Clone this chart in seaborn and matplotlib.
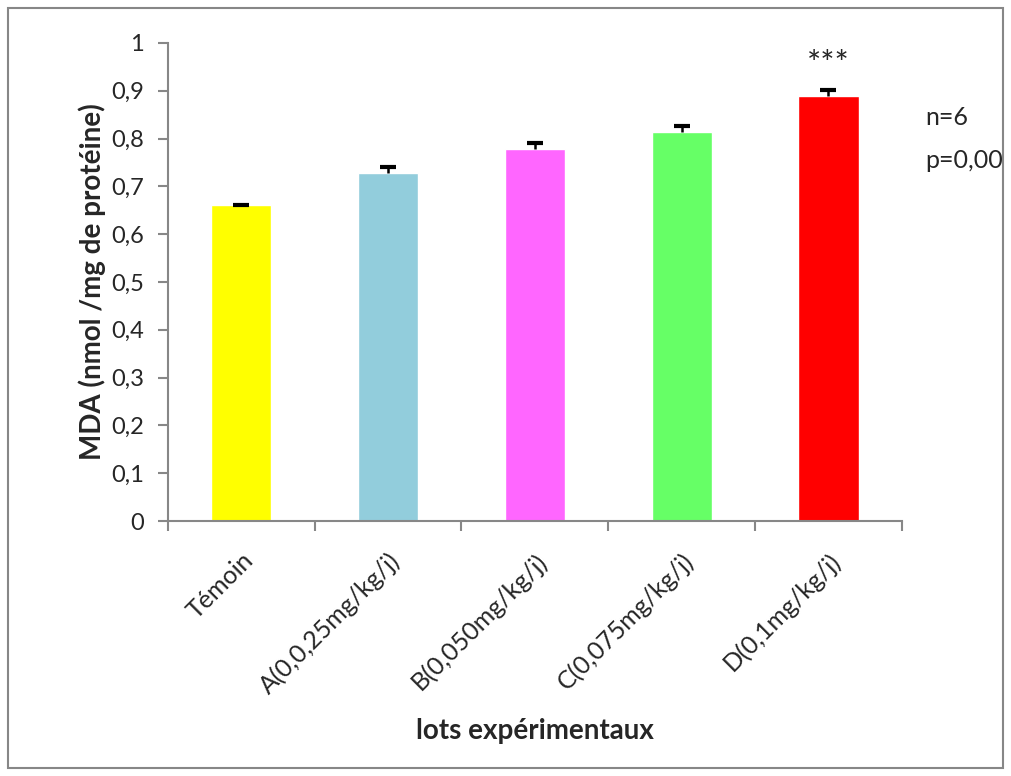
import matplotlib
matplotlib.use("Agg")
import matplotlib.pyplot as plt
import seaborn as sns
import pandas as pd
import numpy as np
from matplotlib.patches import Rectangle
from matplotlib.ticker import FixedLocator, FuncFormatter

categories = ["Témoin", "A(0,0,25mg/kg/j)", "B(0,050mg/kg/j)", "C(0,075mg/kg/j)", "D(0,1mg/kg/j)"]
values = [0.661, 0.728, 0.778, 0.814, 0.889]
errors = [0.001, 0.013, 0.013, 0.013, 0.012]
colors = ["#FFFF00", "#92CDDC", "#FF66FF", "#66FF66", "#FF0000"]
y_ticks = [0, 0.1, 0.2, 0.3, 0.4, 0.5, 0.6, 0.7, 0.8, 0.9, 1.0]

sns.set_theme(style="white")
plt.rcParams['font.family'] = ['Lato', 'DejaVu Sans']

df = pd.DataFrame({"lot": categories, "mda": values})

fig = plt.figure(figsize=(10.11, 7.76), dpi=100)
ax = fig.add_axes([0.166, 0.3286, 0.726, 0.616])

sns.barplot(data=df, x="lot", y="mda", hue="lot", palette=colors, order=categories,
            hue_order=categories, width=0.41, legend=False, ax=ax, saturation=1)

xs = np.arange(len(categories))
tops = np.array(values) + np.array(errors)
ax.vlines(xs, values, tops, color="black", linewidth=1.8, zorder=3)
ax.scatter(xs, tops, marker="_", s=130, linewidths=3, color="black", zorder=4)

ax.set_ylim(0, 1)
ax.set_xlim(-0.5, len(categories) - 0.5)
ax.yaxis.set_major_locator(FixedLocator(y_ticks))
ax.yaxis.set_major_formatter(FuncFormatter(lambda v, p: ("%g" % round(v, 1)).replace(".", ",")))

gray = "#878787"
for s in ["top", "right"]:
    ax.spines[s].set_visible(False)
for s in ["left", "bottom"]:
    ax.spines[s].set_color(gray)
    ax.spines[s].set_linewidth(1.5)

ax.tick_params(axis="y", which="major", direction="out", length=7, width=1.5,
               color=gray, labelsize=17, pad=10, left=True)
ax.set_xticks(xs)
ax.set_xticklabels(categories, rotation=45, ha="right", rotation_mode="anchor", fontsize=18)
ax.tick_params(axis="x", which="major", length=0, pad=20)
ax.set_xticks(np.arange(-0.5, len(categories)), minor=True)
ax.tick_params(axis="x", which="minor", direction="out", length=7, width=1.5,
               color=gray, bottom=True)

ax.set_xlabel("lots expérimentaux", fontsize=20, fontweight="bold", labelpad=14)
ax.set_ylabel("MDA (nmol /mg de protéine)", fontsize=20, fontweight="bold", labelpad=4)

ax.text(4, 0.955, "***", ha="center", va="center", fontsize=24)

fig.text(0.915, 0.849, "n=6", fontsize=18, va="center", ha="left")
fig.text(0.915, 0.793, "p=0,00", fontsize=18, va="center", ha="left")

fig.patches.append(Rectangle((0.008, 0.01), 0.984, 0.98, transform=fig.transFigure,
                             fill=False, edgecolor=gray, linewidth=1.5))

fig.savefig("out.png", dpi=100)
